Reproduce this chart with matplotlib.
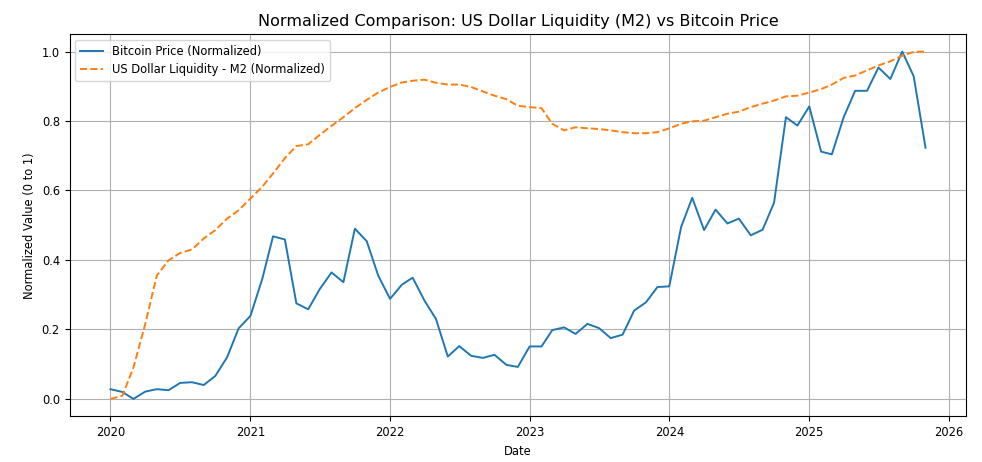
import numpy as np
import pandas as pd
import matplotlib
matplotlib.use("Agg")
import matplotlib.pyplot as plt

plt.rcParams["font.size"] = 8.3

dates = pd.date_range("2020-01-01", periods=71, freq="MS")

btc = [0.028, 0.020, 0.000, 0.021, 0.028, 0.025, 0.046, 0.048, 0.040, 0.066,
       0.120, 0.203, 0.239, 0.346, 0.468, 0.459, 0.275, 0.258, 0.316, 0.364,
       0.336, 0.490, 0.454, 0.355, 0.288, 0.329, 0.349, 0.283, 0.230, 0.122,
       0.152, 0.124, 0.118, 0.127, 0.098, 0.092, 0.151, 0.151, 0.198, 0.206,
       0.187, 0.216, 0.204, 0.175, 0.185, 0.254, 0.278, 0.322, 0.324, 0.495,
       0.579, 0.486, 0.545, 0.505, 0.519, 0.471, 0.487, 0.565, 0.811, 0.787,
       0.842, 0.712, 0.704, 0.811, 0.887, 0.887, 0.954, 0.921, 1.000, 0.929,
       0.723]

m2 = [0.000, 0.009, 0.090, 0.216, 0.355, 0.399, 0.420, 0.430, 0.462, 0.486,
      0.519, 0.543, 0.577, 0.611, 0.649, 0.693, 0.728, 0.733, 0.760, 0.786,
      0.811, 0.837, 0.861, 0.882, 0.898, 0.911, 0.916, 0.919, 0.910, 0.905,
      0.905, 0.898, 0.885, 0.873, 0.863, 0.844, 0.840, 0.837, 0.792, 0.773,
      0.782, 0.779, 0.777, 0.773, 0.768, 0.765, 0.765, 0.768, 0.779, 0.792,
      0.799, 0.801, 0.811, 0.821, 0.827, 0.840, 0.850, 0.859, 0.871, 0.873,
      0.882, 0.892, 0.905, 0.924, 0.931, 0.946, 0.960, 0.972, 0.988, 0.999,
      1.000]

fig, ax = plt.subplots(figsize=(9.82, 4.62), dpi=100)
ax.plot(dates, btc, label="Bitcoin Price (Normalized)", lw=1.4)
ax.plot(dates, m2, "--", label="US Dollar Liquidity - M2 (Normalized)", lw=1.4)
ax.set_title("Normalized Comparison: US Dollar Liquidity (M2) vs Bitcoin Price", fontsize=11.5)
ax.set_xlabel("Date")
ax.set_ylabel("Normalized Value (0 to 1)")
ax.legend(loc="upper left")
ax.grid(True)
fig.subplots_adjust(left=0.071, right=0.984, top=0.926, bottom=0.099)
fig.savefig("out.png")
